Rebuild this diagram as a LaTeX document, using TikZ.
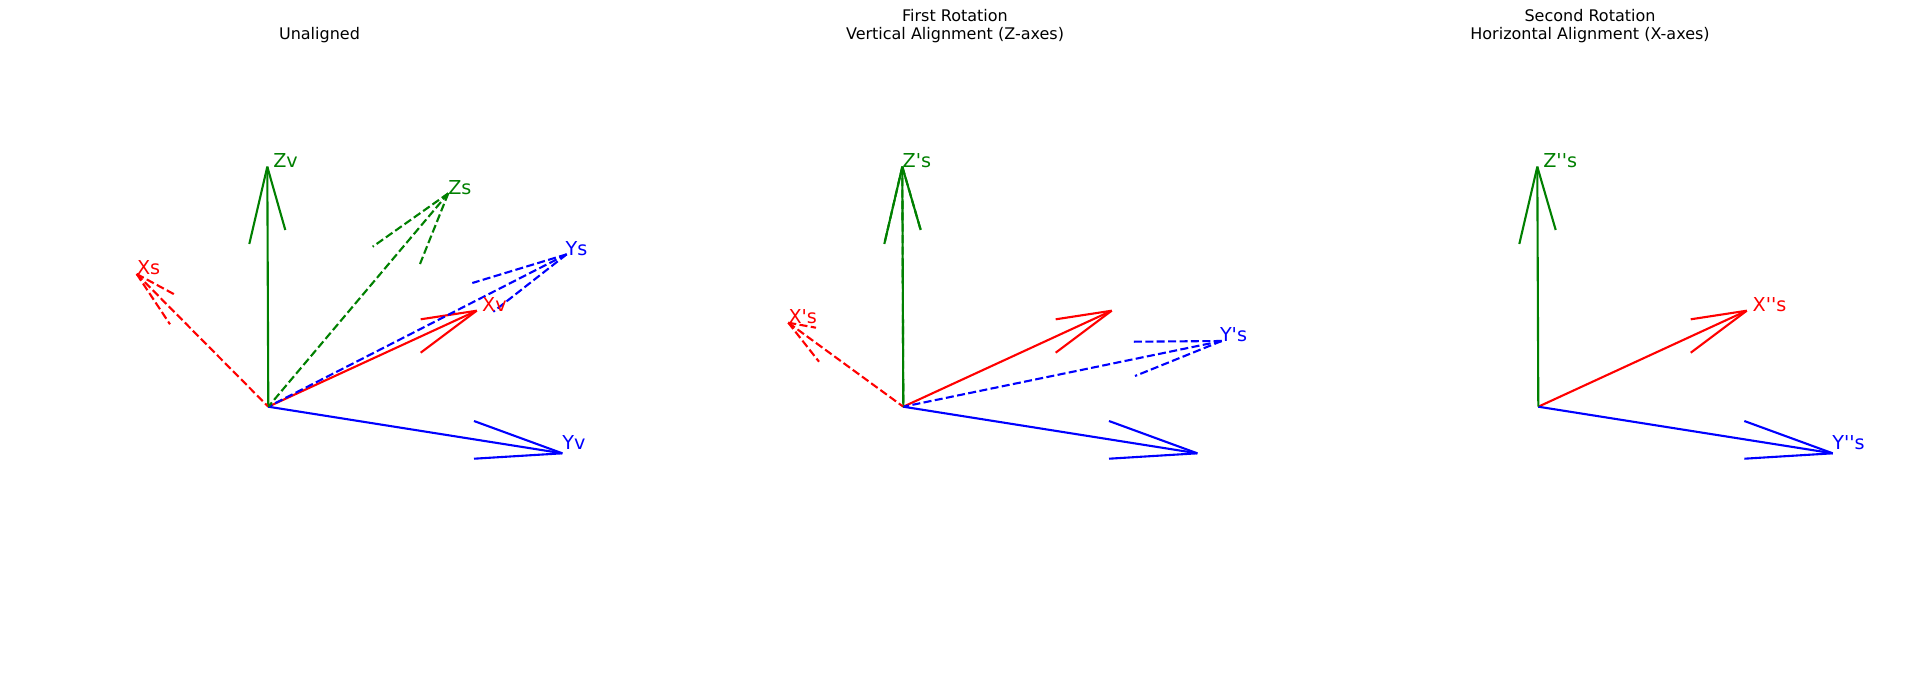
\documentclass[tikz,border=0pt]{standalone}
\usepackage{fontspec}
\setmainfont[Ligatures=TeXOff]{DejaVu Sans}
\definecolor{mplgreen}{RGB}{0,128,0}
\tikzset{
  x=1pt,y=-1pt,
  solidvec/.style={line width=2.1pt,line cap=butt},
  dashvec/.style={line width=2.1pt,line cap=butt,dash pattern=on 8pt off 3.4pt},
  axlabel/.style={anchor=base west,inner sep=0pt,outer sep=0pt,font=\fontsize{19.2}{23}\selectfont},
  paneltitle/.style={anchor=base,inner sep=0pt,outer sep=0pt,align=center,font=\fontsize{16}{19}\selectfont}
}
% #1 style, #2 colour, #3 name prefix, #4 tip, #5 barb 1, #6 barb 2
\newcommand{\vecarrow}[6]{%
  \coordinate (#3t) at #4;
  \coordinate (#3a) at #5;
  \coordinate (#3b) at #6;
  \draw[#1,#2] (#3t) -- (o);
  \draw[#1,#2] (#3t) -- (#3a);
  \draw[#1,#2] (#3t) -- (#3b);
}
\begin{document}
\begin{tikzpicture}
\useasboundingbox (0,0) rectangle (1910,678);
\fill[white] (0,0) rectangle (1910,678);
% Titles
\node[paneltitle] (t1) at (319.5,39.5) {Unaligned};
\node[paneltitle,anchor=base] (t2a) at (955,21.3) {First Rotation};
\node[paneltitle] (t2b) at (955,39.5) {Vertical Alignment (Z-axes)};
\node[paneltitle] (t3a) at (1590,21.3) {Second Rotation};
\node[paneltitle] (t3b) at (1590,39.5) {Horizontal Alignment (X-axes)};
% Panel 1
\begin{scope}
\coordinate (o) at (268.3,406.7);
\vecarrow{solidvec}{red}{xv}{(476.7,310.7)}{(420.7,319.3)}{(420.7,352.7)}
\vecarrow{solidvec}{blue}{yv}{(562.3,453.3)}{(474,421)}{(474,458.7)}
\vecarrow{solidvec}{mplgreen}{zv}{(267.3,166.7)}{(249.3,244)}{(285.3,230)}
\vecarrow{dashvec}{red}{xs}{(136.7,274)}{(175,294.7)}{(170,324.3)}
\vecarrow{dashvec}{blue}{ys}{(566.7,254.3)}{(472.3,283)}{(493.3,311.7)}
\vecarrow{dashvec}{mplgreen}{zs}{(448.3,193.3)}{(372.7,246.7)}{(420,264)}
\node[axlabel,text=red] (lxv) at (482.2,311.5) {Xv};
\node[axlabel,text=blue] (lyv) at (562.3,449.5) {Yv};
\node[axlabel,text=mplgreen] (lzv) at (273.3,167.8) {Zv};
\node[axlabel,text=red] (lxs) at (137,274) {Xs};
\node[axlabel,text=blue] (lys) at (565.7,255) {Ys};
\node[axlabel,text=mplgreen] (lzs) at (448.3,194) {Zs};
\end{scope}
% Panel 2
\begin{scope}
\coordinate (o) at (903.3,406.7);
\vecarrow{solidvec}{red}{xw}{(1111.7,310.7)}{(1055.7,319.3)}{(1055.7,352.7)}
\vecarrow{solidvec}{blue}{yw}{(1197.3,453.3)}{(1109,421)}{(1109,458.7)}
\vecarrow{solidvec}{mplgreen}{zw}{(902.3,166.7)}{(884.3,244)}{(920.7,230)}
\vecarrow{dashvec}{red}{xp}{(788.3,322.7)}{(816,327.7)}{(819,361.7)}
\vecarrow{dashvec}{blue}{yp}{(1221.7,341)}{(1133.3,341.7)}{(1135,376)}
\vecarrow{dashvec}{mplgreen}{zp}{(902.3,166.7)}{(884.3,244)}{(920.7,230)}
\node[axlabel,text=red] (lxp) at (788.5,323) {X's};
\node[axlabel,text=blue] (lyp) at (1220,341.5) {Y's};
\node[axlabel,text=mplgreen] (lzp) at (902.7,167.3) {Z's};
\end{scope}
% Panel 3
\begin{scope}
\coordinate (o) at (1538.3,406.7);
\vecarrow{solidvec}{red}{xx}{(1746.7,310.7)}{(1690.7,319.3)}{(1690.7,352.7)}
\vecarrow{solidvec}{blue}{yx}{(1832.7,453.3)}{(1744.3,421)}{(1744.3,458.7)}
\vecarrow{solidvec}{mplgreen}{zx}{(1537.3,166.7)}{(1519.3,244)}{(1555.7,230)}
\node[axlabel,text=red] (lxx) at (1752.7,311.5) {X''s};
\node[axlabel,text=blue] (lyx) at (1832.3,449.5) {Y''s};
\node[axlabel,text=mplgreen] (lzx) at (1543.3,167.8) {Z''s};
\end{scope}
\end{tikzpicture}
\end{document}
